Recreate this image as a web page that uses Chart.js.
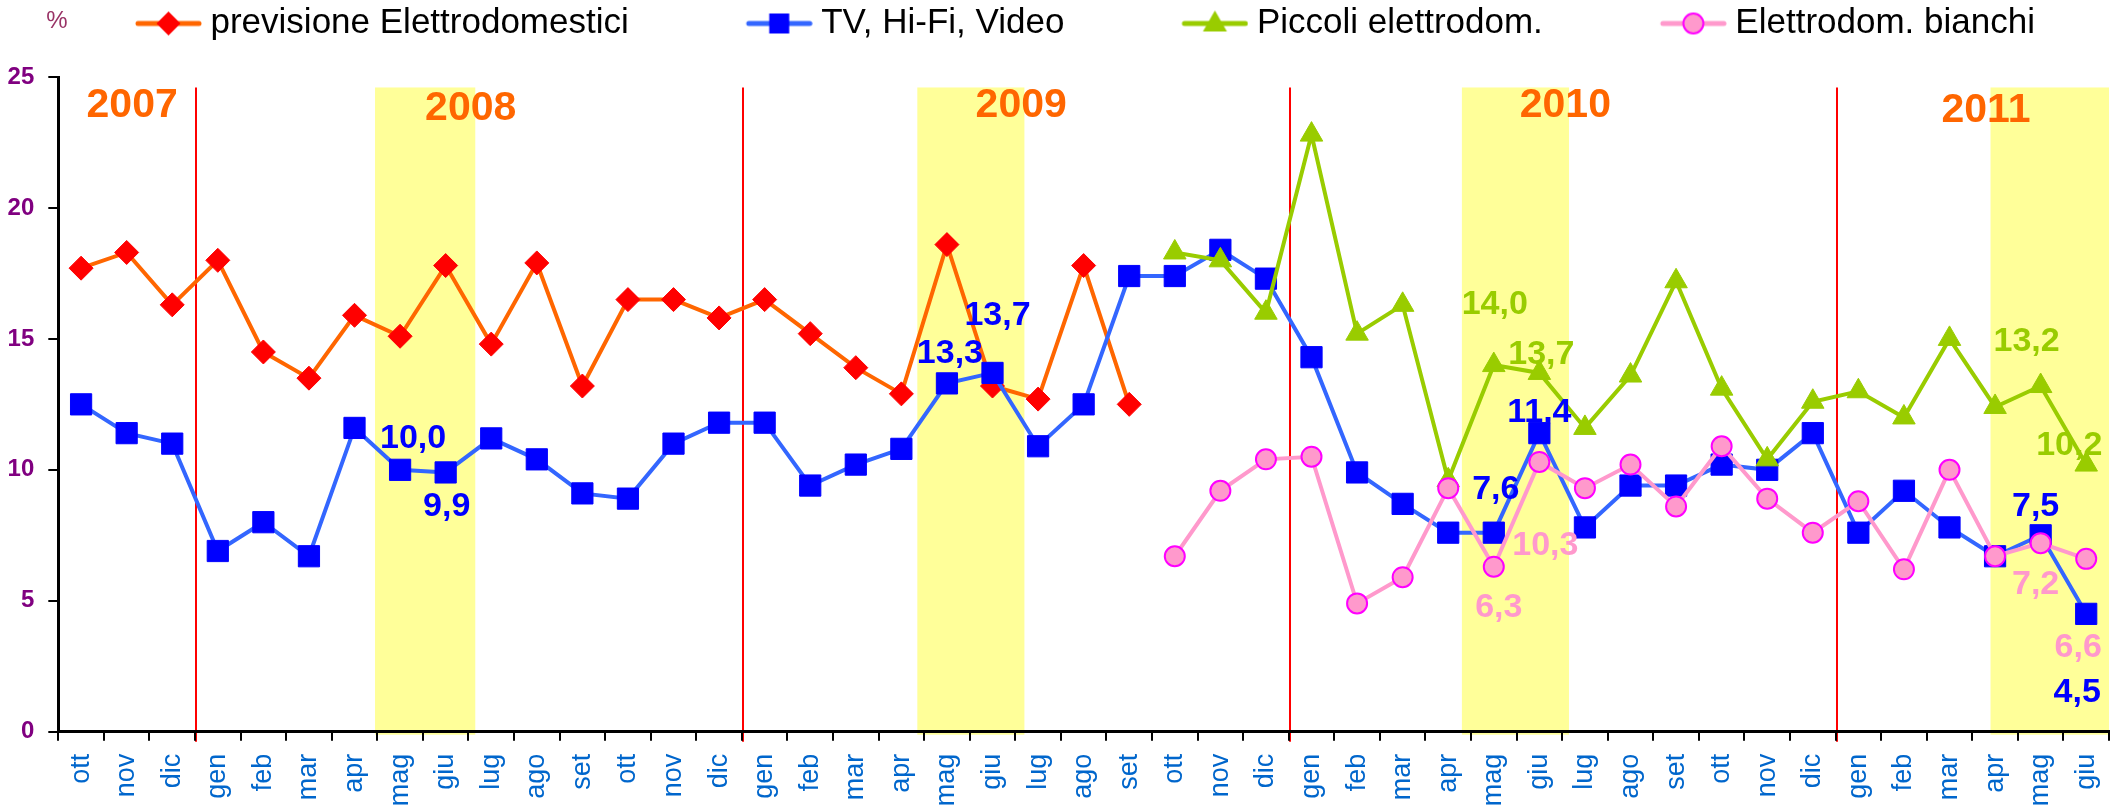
<!DOCTYPE html>
<html>
<head>
<meta charset="utf-8">
<script src="https://cdn.jsdelivr.net/npm/chart.js@4.4.0/dist/chart.umd.min.js"></script>
<style>
  html, body { margin: 0; padding: 0; background: #fff; }
  #wrap { width: 2125px; height: 810px; }
</style>
</head>
<body>
<div id="wrap"><canvas id="grafico"></canvas></div>
<script>
// mesi da ottobre 2007 a giugno 2011
const mesi = ['ott', 'nov', 'dic',
  'gen', 'feb', 'mar', 'apr', 'mag', 'giu', 'lug', 'ago', 'set', 'ott', 'nov', 'dic',
  'gen', 'feb', 'mar', 'apr', 'mag', 'giu', 'lug', 'ago', 'set', 'ott', 'nov', 'dic',
  'gen', 'feb', 'mar', 'apr', 'mag', 'giu', 'lug', 'ago', 'set', 'ott', 'nov', 'dic',
  'gen', 'feb', 'mar', 'apr', 'mag', 'giu'];

const previsione = [17.7, 18.3, 16.3, 18.0, 14.5, 13.5, 15.9, 15.1, 17.8, 14.8, 17.9, 13.2,
  16.5, 16.5, 15.8, 16.5, 15.2, 13.9, 12.9, 18.6, 13.2, 12.7, 17.8, 12.5,
  null, null, null, null, null, null, null, null, null, null, null,
  null, null, null, null, null, null, null, null, null, null];

const tvHifi = [12.5, 11.4, 11.0, 6.9, 8.0, 6.7, 11.6, 10.0, 9.9, 11.2, 10.4, 9.1,
  8.9, 11.0, 11.8, 11.8, 9.4, 10.2, 10.8, 13.3, 13.7, 10.9, 12.5, 17.4,
  17.4, 18.4, 17.3, 14.3, 9.9, 8.7, 7.6, 7.6, 11.4, 7.8, 9.4, 9.4,
  10.2, 10.0, 11.4, 7.6, 9.2, 7.8, 6.7, 7.5, 4.5];

const piccoli = [null, null, null, null, null, null, null, null, null, null, null, null,
  null, null, null, null, null, null, null, null, null, null, null, null,
  18.3, 18.0, 16.0, 22.8, 15.2, 16.3, 9.6, 14.0, 13.7, 11.6, 13.6, 17.2,
  13.1, 10.4, 12.6, 13.0, 12.0, 15.0, 12.4, 13.2, 10.2];

const bianchi = [null, null, null, null, null, null, null, null, null, null, null, null,
  null, null, null, null, null, null, null, null, null, null, null, null,
  6.7, 9.2, 10.4, 10.5, 4.9, 5.9, 9.3, 6.3, 10.3, 9.3, 10.2, 8.6,
  10.9, 8.9, 7.6, 8.8, 6.2, 10.0, 6.7, 7.2, 6.6];

const tickY = [0, 5, 10, 15, 20, 25];
const anni = ['2007', '2008', '2009', '2010', '2011'];

// posizione delle scritte degli anni (indice categoria, valore)
const posAnni = [[1.12, 23.9], [8.55, 23.8], [20.63, 23.9], [32.57, 23.9], [41.8, 23.7]];
// confini fra dicembre e gennaio
const cambioAnno = [3, 15, 27, 39];
// fasce gialle maggio-giugno (confini di categoria)
const fasce = [[6.95, 9.15], [18.85, 21.2], [30.8, 33.15], [42.4, 45]];

// etichette valori: [dataset, indice, dx, dy, colore]
const etichette = [
  [1, 7, 13, -31, '#0000FF'], [1, 8, 1, 34, '#0000FF'],
  [1, 19, 3, -30, '#0000FF'], [1, 20, 5, -57, '#0000FF'],
  [1, 31, 2, -43, '#0000FF'], [1, 32, 0, -21, '#0000FF'],
  [1, 43, -5, -29, '#0000FF'], [1, 44, -9, 79, '#0000FF'],
  [2, 31, 1, -60, '#99CC00'], [2, 32, 2, -18, '#99CC00'],
  [2, 43, -14, -44, '#99CC00'], [2, 44, -17, -19, '#99CC00'],
  [3, 31, 5, 41, '#FF99CC'], [3, 32, 6, 84, '#FF99CC'],
  [3, 43, -5, 41, '#FF99CC'], [3, 44, -8, 89, '#FF99CC']
];

// icona della legenda: linea con marcatore, spostata a destra
function icona(coloreLinea, marcatore) {
  const c = document.createElement('canvas');
  c.width = 187; c.height = 30;
  const g = c.getContext('2d');
  g.strokeStyle = coloreLinea;
  g.lineWidth = 5;
  g.lineCap = 'round';
  g.beginPath(); g.moveTo(123, 15); g.lineTo(184, 15); g.stroke();
  marcatore(g, 153.5, 15);
  return c;
}

const icone = [
  icona('#FF6600', (g, x, y) => {
    g.fillStyle = '#FF0000';
    g.beginPath(); g.moveTo(x - 12, y); g.lineTo(x, y - 12); g.lineTo(x + 12, y); g.lineTo(x, y + 12);
    g.closePath(); g.fill();
  }),
  icona('#3366FF', (g, x, y) => {
    g.fillStyle = '#0000FF';
    g.fillRect(x - 10, y - 10, 20, 20);
  }),
  icona('#99CC00', (g, x, y) => {
    g.fillStyle = '#99CC00';
    g.beginPath(); g.moveTo(x, y - 13); g.lineTo(x + 12, y + 8); g.lineTo(x - 12, y + 8);
    g.closePath(); g.fill();
  }),
  icona('#FF99CC', (g, x, y) => {
    g.fillStyle = '#FF99CC';
    g.strokeStyle = '#FF00FF';
    g.lineWidth = 2;
    g.beginPath(); g.arc(x, y, 10, 0, Math.PI * 2); g.fill(); g.stroke();
  })
];

// legenda alta quanto lo spazio sopra il grafico, spostata un po' a destra
const legendaFissa = {
  id: 'legendaFissa',
  afterInit(chart) {
    const leg = chart.legend;
    const fit = leg.fit;
    leg.fit = function () { fit.call(this); this.height = 77; };
  },
  afterLayout(chart) {
    chart.legend.left = 18;
  }
};

const sfondo = {
  id: 'sfondo',
  beforeDraw(chart) {
    const { ctx, scales: { x, y }, chartArea } = chart;
    ctx.save();
    ctx.fillStyle = '#FFFF99';
    fasce.forEach(([a, b]) => {
      const x1 = x.getPixelForValue(a - 0.5);
      const x2 = x.getPixelForValue(b - 0.5);
      const top = y.getPixelForValue(24.6);
      ctx.fillRect(x1, top, x2 - x1, chartArea.bottom + 3 - top);
    });
    ctx.strokeStyle = '#FF0000';
    ctx.lineWidth = 2;
    cambioAnno.forEach(b => {
      const px = Math.round(x.getPixelForValue(b - 0.5)) + 1;
      ctx.beginPath();
      ctx.moveTo(px, y.getPixelForValue(24.6));
      ctx.lineTo(px, chartArea.bottom + 10);
      ctx.stroke();
    });
    // unità di misura
    ctx.fillStyle = '#993366';
    ctx.font = '24px "Liberation Sans"';
    ctx.textAlign = 'center';
    ctx.textBaseline = 'middle';
    ctx.fillText('%', 57, 21);
    ctx.restore();
  },
  afterDatasetsDraw(chart) {
    const { ctx, scales: { x, y } } = chart;
    ctx.save();
    ctx.textAlign = 'center';
    ctx.textBaseline = 'middle';
    ctx.fillStyle = '#FF6600';
    ctx.font = 'bold 41px "Liberation Sans"';
    anni.forEach((a, i) => {
      ctx.fillText(a, x.getPixelForValue(posAnni[i][0]), y.getPixelForValue(posAnni[i][1]));
    });
    ctx.font = 'bold 34px "Liberation Sans"';
    etichette.forEach(([ds, i, dx, dy, col]) => {
      const p = chart.getDatasetMeta(ds).data[i];
      const v = chart.data.datasets[ds].data[i];
      ctx.fillStyle = col;
      ctx.fillText(v.toFixed(1).replace('.', ','), p.x + dx, p.y + dy);
    });
    ctx.restore();
  }
};

new Chart(document.getElementById('grafico'), {
  type: 'line',
  data: {
    labels: mesi,
    datasets: [
      {
        label: 'previsione Elettrodomestici', data: previsione, order: 4,
        borderColor: '#FF6600', borderWidth: 4,
        pointStyle: 'rectRot', pointRadius: 12,
        pointBackgroundColor: '#FF0000', pointBorderColor: '#FF0000', pointBorderWidth: 1
      },
      {
        label: 'TV, Hi-Fi, Video', data: tvHifi, order: 3,
        borderColor: '#3366FF', borderWidth: 4,
        pointStyle: 'rect', pointRadius: 15,
        pointBackgroundColor: '#0000FF', pointBorderColor: '#0000FF', pointBorderWidth: 1
      },
      {
        label: 'Piccoli elettrodom.', data: piccoli, order: 2,
        borderColor: '#99CC00', borderWidth: 4,
        pointStyle: 'triangle', pointRadius: 13,
        pointBackgroundColor: '#99CC00', pointBorderColor: '#99CC00', pointBorderWidth: 1
      },
      {
        label: 'Elettrodom. bianchi', data: bianchi, order: 1,
        borderColor: '#FF99CC', borderWidth: 4,
        pointStyle: 'circle', pointRadius: 10,
        pointBackgroundColor: '#FF99CC', pointBorderColor: '#FF00FF', pointBorderWidth: 2
      }
    ]
  },
  options: {
    responsive: true,
    maintainAspectRatio: false,
    animation: false,
    layout: { padding: { left: 0, right: 7, top: 0, bottom: 0 } },
    plugins: {
      tooltip: { enabled: false },
      legend: {
        position: 'top',
        align: 'start',
        labels: {
          usePointStyle: true,
          pointStyleWidth: 169,
          padding: 6,
          color: '#000',
          font: { family: 'Liberation Sans', size: 35 },
          sort: (a, b) => a.datasetIndex - b.datasetIndex,
          generateLabels(chart) {
            const items = Chart.defaults.plugins.legend.labels.generateLabels(chart);
            items.forEach(it => { it.pointStyle = icone[it.datasetIndex]; });
            return items;
          }
        }
      }
    },
    scales: {
      x: {
        offset: true,
        grid: { offset: true, drawOnChartArea: false, drawTicks: true, tickLength: 9, color: '#000', lineWidth: 2 },
        border: { display: true, color: '#000', width: 3 },
        ticks: {
          color: '#0066CC', font: { family: 'Liberation Sans', size: 27 },
          minRotation: 90, maxRotation: 90, autoSkip: false, padding: 13
        },
        afterFit(s) { s.height = 78.3; s.paddingLeft = 0; s.paddingRight = 0; }
      },
      y: {
        min: 0, max: 25,
        afterBuildTicks(s) { s.ticks = tickY.map(v => ({ value: v })); },
        grid: { drawOnChartArea: false, drawTicks: true, tickLength: 10, color: '#000', lineWidth: 2 },
        border: { display: true, color: '#000', width: 3 },
        ticks: {
          color: '#800080', font: { family: 'Liberation Sans', size: 24, weight: 'bold' }, padding: 14
        },
        afterFit(s) { s.width = 58.3; }
      }
    }
  },
  plugins: [legendaFissa, sfondo]
});
</script>
</body>
</html>
